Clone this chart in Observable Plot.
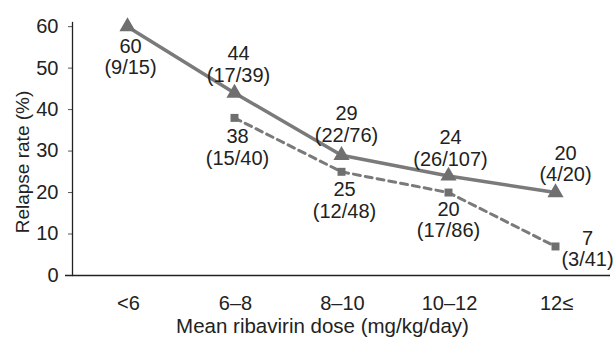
<!DOCTYPE html>
<html>
<head>
<meta charset="utf-8">
<script src="https://cdn.jsdelivr.net/npm/d3@7"></script>
<script src="https://cdn.jsdelivr.net/npm/@observablehq/plot@0.6"></script>
<style>
  html, body { margin: 0; padding: 0; background: #fff; }
  #chart svg { display: block; }
</style>
</head>
<body>
<div id="chart"></div>
<script>
// Categories (mean ribavirin dose, mg/kg/day)
const categories = ["<6", "6–8", "8–10", "10–12", "12≤"];
const yTicks = [0, 10, 20, 30, 40, 50, 60];

// Series A (solid line, triangles)
const triCats = ["<6", "6–8", "8–10", "10–12", "12≤"];
const triRate = [60, 44, 29, 24, 20];
const triNum = [9, 17, 22, 26, 4];
const triDen = [15, 39, 76, 107, 20];

// Series B (dashed line, squares)
const sqCats = ["6–8", "8–10", "10–12", "12≤"];
const sqRate = [38, 25, 20, 7];
const sqNum = [15, 12, 17, 3];
const sqDen = [40, 48, 86, 41];

// label placement (pixel offsets from each point)
const triLabelOffset = [[3, 30], [4, -29], [5, -31], [2, -28], [10, -29]];
const sqLabelOffset = [[3, 29], [3, 28], [0, 27], [32, 2]];

const tri = triCats.map((c, i) => ({cat: c, rate: triRate[i], label: `${triRate[i]}\n(${triNum[i]}/${triDen[i]})`}));
const sq = sqCats.map((c, i) => ({cat: c, rate: sqRate[i], label: `${sqRate[i]}\n(${sqNum[i]}/${sqDen[i]})`}));

const font = "'Liberation Sans', Arial, Helvetica, sans-serif";
const textColor = "#222";
const fs = 20;

const labelMarks = [
  ...tri.map((d, i) => Plot.text([d], {x: "cat", y: "rate", text: "label", dx: triLabelOffset[i][0], dy: triLabelOffset[i][1], lineHeight: 1.08, fill: textColor, fontSize: fs})),
  ...sq.map((d, i) => Plot.text([d], {x: "cat", y: "rate", text: "label", dx: sqLabelOffset[i][0], dy: sqLabelOffset[i][1], lineHeight: 1.08, fill: textColor, fontSize: fs}))
];

const chart = Plot.plot({
  width: 613,
  height: 340,
  marginLeft: 72,
  marginRight: 3,
  marginTop: 22,
  marginBottom: 65,
  style: {fontFamily: font, fontSize: fs + "px", color: textColor, background: "#fff"},
  x: {type: "point", domain: categories, range: [125, 556], padding: 0, label: null},
  y: {domain: [0, 61], label: null},
  marks: [
    Plot.axisY({ticks: yTicks, tickSize: 4, tickPadding: 10, label: null, stroke: "#555", fontSize: fs}),
    Plot.axisX({tickSize: 0, tickPadding: 20, dx: 1, label: null, fontSize: fs}),
    Plot.frame({anchor: "left", stroke: "#222", strokeWidth: 1.3}),
    Plot.ruleY([0], {stroke: "#222", strokeWidth: 1.3, insetLeft: -7}),
    Plot.line(tri, {x: "cat", y: "rate", stroke: "#7a7a7a", strokeWidth: 3.5}),
    Plot.line(sq, {x: "cat", y: "rate", stroke: "#7a7a7a", strokeWidth: 3, strokeDasharray: "7,5"}),
    Plot.dot(tri, {x: "cat", y: "rate", symbol: "triangle", r: 6, fill: "#6f6f6f", stroke: "none"}),
    Plot.dot(sq, {x: "cat", y: "rate", symbol: "square", r: 4.5, fill: "#6f6f6f", stroke: "none"}),
    ...labelMarks,
    Plot.text(["Mean ribavirin dose (mg/kg/day)"], {frameAnchor: "bottom", dx: -19, dy: 57, fill: textColor, fontSize: 20.5}),
    Plot.text(["Relapse rate (%)"], {frameAnchor: "left", dx: -50, dy: 13, rotate: -90, textAnchor: "middle", fill: textColor, fontSize: 19})
  ]
});
document.getElementById("chart").appendChild(chart);
</script>
</body>
</html>
